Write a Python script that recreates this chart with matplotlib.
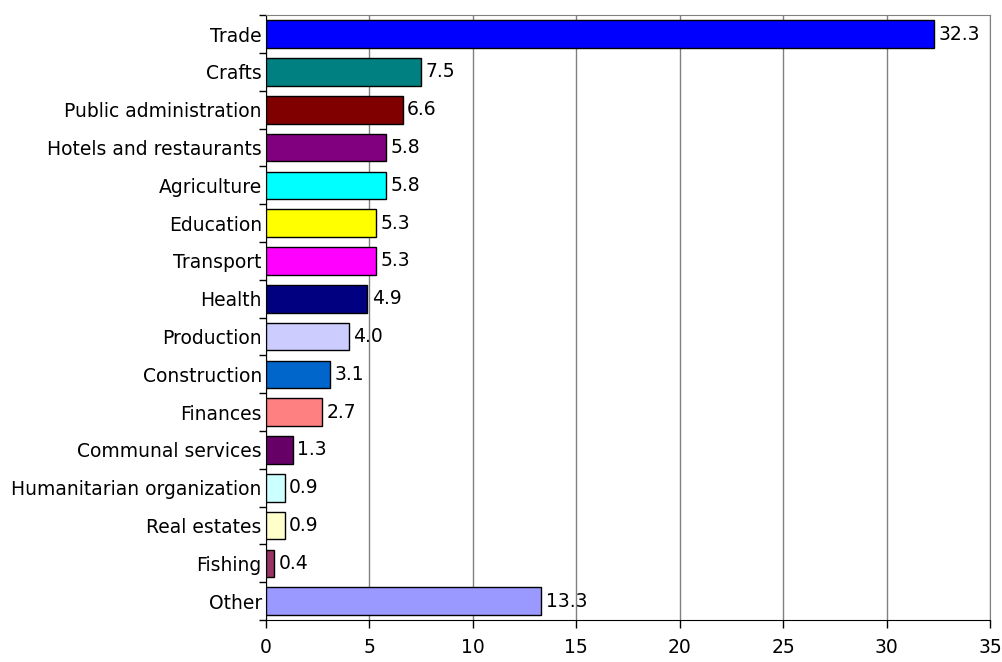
import numpy as np
import matplotlib
matplotlib.use('Agg')
import matplotlib.pyplot as plt

# sectors and shares (%)
sectors = ['Trade', 'Crafts', 'Public administration', 'Hotels and restaurants',
           'Agriculture', 'Education', 'Transport', 'Health', 'Production',
           'Construction', 'Finances', 'Communal services',
           'Humanitarian organization', 'Real estates', 'Fishing', 'Other']
shares = [32.3, 7.5, 6.6, 5.8, 5.8, 5.3, 5.3, 4.9, 4.0, 3.1, 2.7, 1.3, 0.9, 0.9, 0.4, 13.3]
colors = ['#0000FF', '#008080', '#800000', '#800080', '#00FFFF', '#FFFF00',
          '#FF00FF', '#000080', '#CCCCFF', '#0066CC', '#FF8080', '#660066',
          '#CCFFFF', '#FFFFCC', '#993366', '#9999FF']
x_ticks = [0, 5, 10, 15, 20, 25, 30, 35]

plt.rcParams['font.family'] = ['DejaVu Sans']
fig = plt.figure(figsize=(10.02, 6.62), dpi=100)
ax = fig.add_axes([0.2655, 0.0634, 0.988 - 0.2655, 0.977 - 0.0634])

n = len(sectors)
y = np.arange(n)
ax.barh(y, shares, height=0.73, color=colors, edgecolor='black', linewidth=1.0, zorder=3)

for yi, v in zip(y, shares):
    ax.text(v + 0.22, yi, f'{v:.1f}', va='center', ha='left', fontsize=13.5, zorder=4)

ax.set_xlim(0, 35)
ax.set_ylim(n - 0.5, -0.5)
ax.set_xticks(x_ticks)
ax.set_xticklabels([str(t) for t in x_ticks], fontsize=13.5)
ax.tick_params(axis='x', length=6, width=1, pad=7, color='black')

# category labels centred on bars, ticks between categories
ax.set_yticks(np.arange(n + 1) - 0.5)
ax.set_yticklabels([])
ax.set_yticks(y, minor=True)
ax.set_yticklabels(sectors, minor=True, fontsize=13.5)
ax.tick_params(axis='y', which='major', length=5, width=1, color='black')
ax.tick_params(axis='y', which='minor', length=0, pad=3)

ax.xaxis.grid(True, color='#808080', linewidth=1, zorder=0)
ax.spines['top'].set_color('#808080')
ax.spines['right'].set_color('#808080')
ax.spines['left'].set_color('black')
ax.spines['bottom'].set_color('black')

fig.savefig('out.png', dpi=100)
